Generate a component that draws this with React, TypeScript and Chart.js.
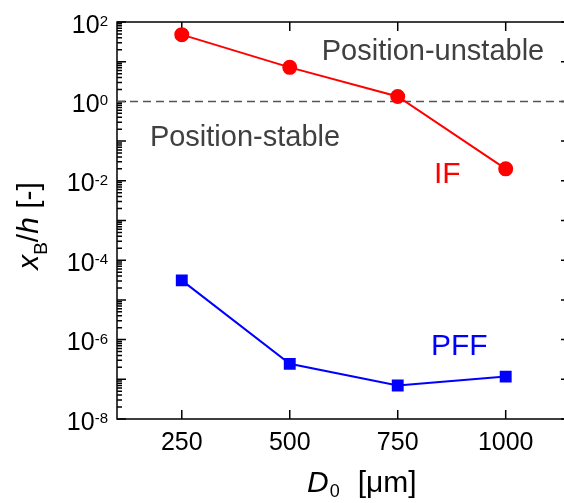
import React, { useEffect, useRef } from "react";
import { Chart, registerables } from "chart.js";

Chart.register(...registerables);

const diameters = [250, 500, 750, 1000];
const ifValues = [48, 7.2, 1.33, 0.02];
const pffValues = [3.1e-5, 2.45e-7, 7.0e-8, 1.17e-7];
const thresholdX = [100, 1135];
const thresholdY = [1, 1];
const xTicks = [250, 500, 750, 1000];
const yLabelExponents = [2, 0, -2, -4, -6, -8];
const yDecades = [2, 1, 0, -1, -2, -3, -4, -5, -6, -7, -8];
const xMin = 100;
const xMax = 1135;
const yMin = 1e-8;
const yMax = 1e2;

const FONT = '"Liberation Sans", Arial, sans-serif';

const framePlugin = {
  id: "frame",
  beforeDatasetsDraw(chart: any) {
    const { ctx, chartArea: a, scales } = chart;
    const x = scales.x;
    const y = scales.y;
    ctx.save();
    ctx.strokeStyle = "#000";
    ctx.lineWidth = 1.5;
    ctx.beginPath();
    ctx.moveTo(a.right + 2, a.top);
    ctx.lineTo(a.left, a.top);
    ctx.lineTo(a.left, a.bottom);
    ctx.lineTo(a.right + 2, a.bottom);
    ctx.stroke();

    ctx.beginPath();
    for (const v of xTicks) {
      const px = x.getPixelForValue(v);
      ctx.moveTo(px, a.bottom);
      ctx.lineTo(px, a.bottom - 9);
      ctx.moveTo(px, a.top);
      ctx.lineTo(px, a.top + 9);
    }
    for (const d of yDecades) {
      const py = y.getPixelForValue(Math.pow(10, d));
      ctx.moveTo(a.left, py);
      ctx.lineTo(a.left + 9, py);
      ctx.moveTo(a.right, py);
      ctx.lineTo(a.right - 3, py);
      if (d < 2) {
        for (let k = 2; k <= 9; k++) {
          const pm = y.getPixelForValue(k * Math.pow(10, d));
          ctx.moveTo(a.left, pm);
          ctx.lineTo(a.left + 5, pm);
        }
      }
    }
    ctx.stroke();
    ctx.restore();
  },
  afterDraw(chart: any) {
    const { ctx, chartArea: a, scales } = chart;
    const x = scales.x;
    const y = scales.y;
    ctx.save();
    ctx.fillStyle = "#000";
    ctx.font = `25px ${FONT}`;
    ctx.textAlign = "center";
    ctx.textBaseline = "alphabetic";
    for (const v of xTicks) {
      ctx.fillText(String(v), x.getPixelForValue(v), a.bottom + 31);
    }
    const rightEdge = a.left - 9;
    for (const e of yLabelExponents) {
      const py = y.getPixelForValue(Math.pow(10, e));
      ctx.textAlign = "right";
      ctx.font = `15px ${FONT}`;
      const expText = String(e);
      const ew = ctx.measureText(expText).width;
      ctx.fillText(expText, rightEdge, py + 4);
      ctx.font = `25px ${FONT}`;
      ctx.fillText("10", rightEdge - ew, py + 10.5);
    }

    ctx.textAlign = "left";
    let cx = 307;
    const base = 492;
    ctx.font = `italic 30px ${FONT}`;
    ctx.fillText("D", cx, base);
    cx += ctx.measureText("D").width;
    ctx.font = `18px ${FONT}`;
    ctx.fillText("0", cx + 1, base + 5);
    cx += ctx.measureText("0").width + 1;
    ctx.font = `30px ${FONT}`;
    ctx.fillText("[μm]", cx + 18, base);

    ctx.save();
    ctx.translate(38, 226);
    ctx.rotate(-Math.PI / 2);
    const parts: [string, string, number][] = [
      ["x", `italic 30px ${FONT}`, 0],
      ["B", `19px ${FONT}`, 9],
      ["/", `30px ${FONT}`, 0],
      ["h", `italic 30px ${FONT}`, 0],
      [" [-]", `30px ${FONT}`, 0],
    ];
    let total = 0;
    for (const [t, f] of parts) {
      ctx.font = f;
      total += ctx.measureText(t).width;
    }
    let tx = -total / 2;
    for (const [t, f, off] of parts) {
      ctx.font = f;
      ctx.fillText(t, tx, off);
      tx += ctx.measureText(t).width;
    }
    ctx.restore();

    ctx.fillStyle = "#404040";
    ctx.font = `29px ${FONT}`;
    ctx.textAlign = "center";
    ctx.fillText("Position-unstable", 433, 60);
    ctx.fillText("Position-stable", 245, 146);
    ctx.textAlign = "left";
    ctx.font = `30px ${FONT}`;
    ctx.fillStyle = "#ff0000";
    ctx.fillText("IF", 434, 183);
    ctx.fillStyle = "#0000ff";
    ctx.fillText("PFF", 431, 355);
    ctx.restore();
  },
};

export default function App() {
  const ref = useRef<HTMLCanvasElement | null>(null);
  useEffect(() => {
    if (!ref.current) return;
    const chart = new Chart(ref.current, {
      type: "line",
      data: {
        datasets: [
          {
            label: "IF",
            data: diameters.map((d, i) => ({ x: d, y: ifValues[i] })),
            borderColor: "#ff0000",
            backgroundColor: "#ff0000",
            borderWidth: 2,
            pointStyle: "circle",
            pointRadius: 6.5,
            pointHoverRadius: 6.5,
          },
          {
            label: "PFF",
            data: diameters.map((d, i) => ({ x: d, y: pffValues[i] })),
            borderColor: "#0000ff",
            backgroundColor: "#0000ff",
            borderWidth: 2,
            pointStyle: "rect",
            pointRadius: 7,
            pointHoverRadius: 7,
          },
          {
            label: "threshold",
            data: thresholdX.map((d, i) => ({ x: d, y: thresholdY[i] })),
            borderColor: "#555555",
            borderWidth: 1.5,
            borderDash: [8, 5],
            pointRadius: 0,
          },
        ],
      },
      options: {
        responsive: false,
        animation: false,
        devicePixelRatio: 1,
        layout: { autoPadding: false, padding: { left: 117, top: 22, right: 0, bottom: 84 } },
        plugins: { legend: { display: false }, tooltip: { enabled: false } },
        scales: {
          x: { type: "linear", min: xMin, max: xMax, display: false },
          y: { type: "logarithmic", min: yMin, max: yMax, display: false },
        },
        elements: { line: { tension: 0 } },
      },
      plugins: [framePlugin],
    } as any);
    return () => chart.destroy();
  }, []);
  return (
    <div style={{ position: "fixed", left: 0, top: 0, width: 564, height: 503, background: "#fff" }}>
      <canvas ref={ref} width={564} height={503} style={{ width: 564, height: 503, display: "block" }} />
    </div>
  );
}
